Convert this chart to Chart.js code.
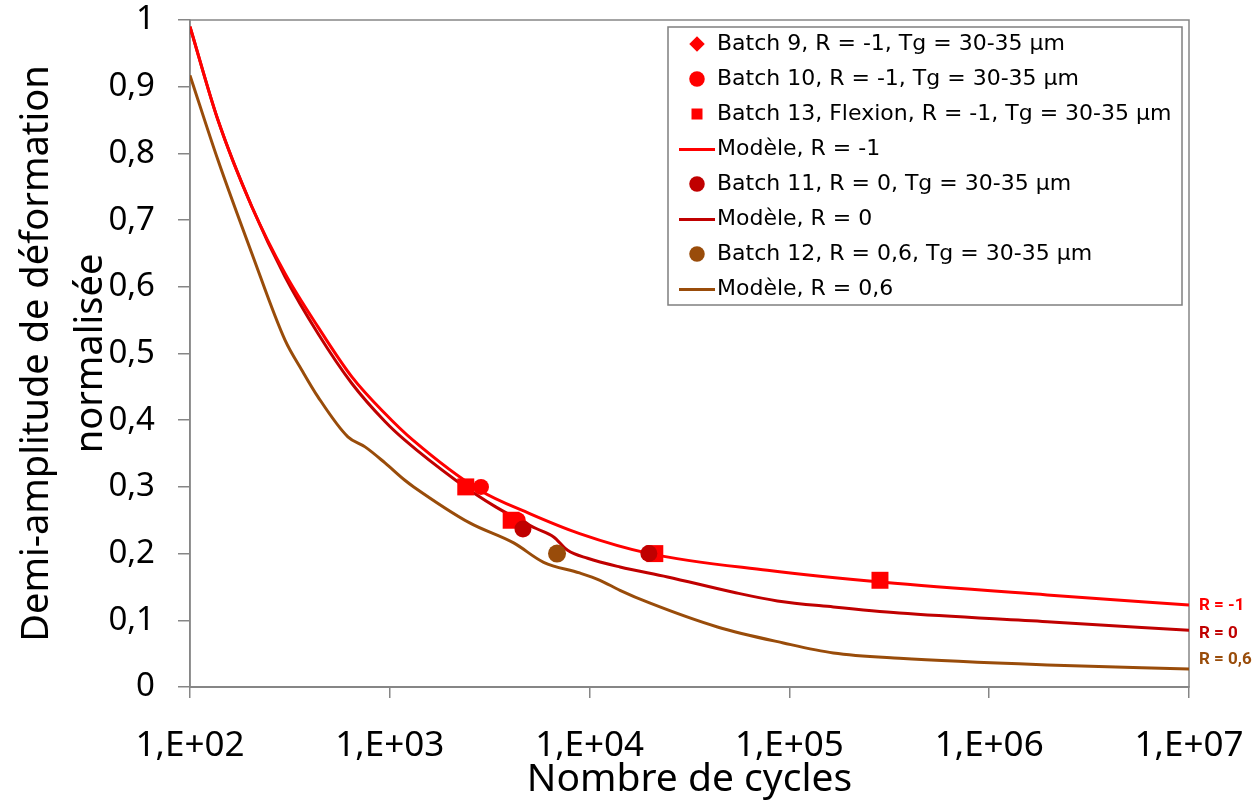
<!DOCTYPE html>
<html lang="fr">
<head>
<meta charset="UTF-8">
<title>Demi-amplitude de déformation normalisée</title>
<script src="https://cdn.jsdelivr.net/npm/chart.js"></script>
<style>
  html, body { margin: 0; padding: 0; background: #fff; }
</style>
</head>
<body>
<canvas id="chart" width="1258" height="809"></canvas>
<script>
// axes
var xTickValues = [1e2, 1e3, 1e4, 1e5, 1e6, 1e7];
var xTickLabels = ['1,E+02', '1,E+03', '1,E+04', '1,E+05', '1,E+06', '1,E+07'];
var yTickLabels = ['0', '0,1', '0,2', '0,3', '0,4', '0,5', '0,6', '0,7', '0,8', '0,9', '1'];

// essais
var batch9Cycles = [2400];
var batch9Values = [0.30];
var batch10Cycles = [2860, 4370];
var batch10Values = [0.30, 0.25];
var batch13Cycles = [2400, 4050, 21200, 284000];
var batch13Values = [0.30, 0.25, 0.20, 0.16];
var batch11Cycles = [4640, 19800];
var batch11Values = [0.237, 0.20];
var batch12Cycles = [6870];
var batch12Values = [0.20];

// modèles
var modelM1Cycles = [100, 138, 204, 299, 437, 646, 946, 1306, 2818, 5012, 8913, 19950, 77620, 295000, 1950000, 1e7];
var modelM1Values = [0.99, 0.85, 0.72, 0.62, 0.54, 0.465, 0.41, 0.37, 0.295, 0.26, 0.23, 0.20, 0.175, 0.157, 0.138, 0.123];
var model0Cycles = [100, 138, 204, 299, 437, 646, 946, 1190, 2138, 3388, 5370, 6607, 7762, 9772, 14190, 24550, 52480, 87100, 166000, 354800, 1950000, 1e7];
var model0Values = [0.99, 0.85, 0.72, 0.615, 0.53, 0.455, 0.398, 0.37, 0.31, 0.27, 0.238, 0.225, 0.205, 0.193, 0.18, 0.165, 0.142, 0.129, 0.12, 0.111, 0.098, 0.085];
var model06Cycles = [100, 138, 204, 299, 363, 437, 617, 752, 946, 1190, 1318, 2512, 4169, 5888, 8913, 11270, 14190, 19950, 43650, 93330, 166000, 354800, 1950000, 1e7];
var model06Values = [0.917, 0.79, 0.65, 0.52, 0.475, 0.435, 0.375, 0.36, 0.336, 0.31, 0.30, 0.246, 0.216, 0.187, 0.171, 0.16, 0.145, 0.126, 0.09, 0.066, 0.051, 0.043, 0.033, 0.027];

var RED = '#ff0000';
var DARKRED = '#c00000';
var BROWN = '#994c0a';
var FONT = 'Noto Sans';

function pts(xs, ys) {
    return xs.map(function (x, i) { return { x: x, y: ys[i] }; });
}

function scatterSet(label, xs, ys, color, style, radius, order) {
    return {
        type: 'scatter', label: label, data: pts(xs, ys),
        backgroundColor: color, borderColor: color, borderWidth: 0,
        pointStyle: style, pointRadius: radius, pointHoverRadius: radius, order: order
    };
}

function lineSet(label, xs, ys, color, endLabel, dy) {
    return {
        type: 'line', label: label, data: pts(xs, ys),
        borderColor: color, backgroundColor: color, borderWidth: 3,
        pointRadius: 0, pointStyle: 'line', cubicInterpolationMode: 'monotone',
        fill: false, order: 5, endLabel: endLabel, endDy: dy
    };
}

// petit trait pour la légende des modèles
function lineImage(color) {
    var c = document.createElement('canvas');
    c.width = 36;
    c.height = 3;
    var g = c.getContext('2d');
    g.fillStyle = color;
    g.fillRect(0, 0, 36, 3);
    return c;
}

// cadre de la zone de tracé, cadre de la légende, étiquettes en bout de courbe
var extras = {
    id: 'extras',
    afterLayout: function (chart) {
        var a = chart.chartArea;
        chart.legend.left = a.left + 485;
        chart.legend.top = a.top;
    },
    beforeDatasetsDraw: function (chart) {
        var a = chart.chartArea, ctx = chart.ctx;
        ctx.save();
        ctx.strokeStyle = '#868686';
        ctx.lineWidth = 1.5;
        ctx.strokeRect(a.left, a.top, a.right - a.left, a.bottom - a.top);
        ctx.restore();
    },
    afterDraw: function (chart) {
        var a = chart.chartArea, ctx = chart.ctx;
        ctx.save();
        ctx.strokeStyle = '#7f7f7f';
        ctx.lineWidth = 1.5;
        ctx.strokeRect(a.left + 478, a.top + 7, a.right - 7 - (a.left + 478), 278);
        ctx.font = 'bold 17px Roboto';
        ctx.textBaseline = 'middle';
        chart.data.datasets.forEach(function (ds, i) {
            if (!ds.endLabel) return;
            var meta = chart.getDatasetMeta(i);
            var p = meta.data[meta.data.length - 1];
            ctx.fillStyle = ds.borderColor;
            ctx.fillText(ds.endLabel, a.right + 10, p.y + ds.endDy);
        });
        ctx.restore();
    }
};

var ctx = document.getElementById('chart').getContext('2d');
var chart = new Chart(ctx, {
    data: {
        datasets: [
            scatterSet('Batch 9, R = -1, Tg = 30-35 µm', batch9Cycles, batch9Values, RED, 'rectRot', 7, 3),
            scatterSet('Batch 10, R = -1, Tg = 30-35 µm', batch10Cycles, batch10Values, RED, 'circle', 8, 1),
            scatterSet('Batch 13, Flexion, R = -1, Tg = 30-35 µm', batch13Cycles, batch13Values, RED, 'rect', 12, 2),
            lineSet('Modèle, R = -1', modelM1Cycles, modelM1Values, RED, 'R = -1', 1),
            scatterSet('Batch 11, R = 0, Tg = 30-35 µm', batch11Cycles, batch11Values, DARKRED, 'circle', 8.5, 0),
            lineSet('Modèle, R = 0', model0Cycles, model0Values, DARKRED, 'R = 0', 3),
            scatterSet('Batch 12, R = 0,6, Tg = 30-35 µm', batch12Cycles, batch12Values, BROWN, 'circle', 9, 0),
            lineSet('Modèle, R = 0,6', model06Cycles, model06Values, BROWN, 'R = 0,6', -9)
        ]
    },
    options: {
        responsive: false,
        animation: false,
        devicePixelRatio: 1,
        layout: { padding: { top: 20, right: 69, bottom: 0, left: 0 } },
        plugins: {
            tooltip: { enabled: false },
            legend: {
                position: 'chartArea',
                align: 'start',
                labels: {
                    usePointStyle: true,
                    boxWidth: 18,
                    boxHeight: 11,
                    padding: 13,
                    color: '#000',
                    font: { family: 'DejaVu Sans', size: 22 },
                    sort: function (a, b) { return a.datasetIndex - b.datasetIndex; },
                    generateLabels: function (chart) {
                        var items = Chart.defaults.plugins.legend.labels.generateLabels(chart);
                        items.forEach(function (it) {
                            var ds = chart.data.datasets[it.datasetIndex];
                            if (ds.type === 'line') it.pointStyle = lineImage(ds.borderColor);
                        });
                        return items;
                    }
                }
            }
        },
        scales: {
            x: {
                type: 'logarithmic',
                min: 1e2,
                max: 1e7,
                afterBuildTicks: function (scale) {
                    scale.ticks = xTickValues.map(function (v) { return { value: v, major: true }; });
                },
                afterFit: function (scale) {
                    scale.height = 122;
                    scale.paddingLeft = 0;
                    scale.paddingRight = 0;
                },
                ticks: {
                    autoSkip: false,
                    maxRotation: 0,
                    padding: 27,
                    color: '#000',
                    font: { family: FONT, size: 35 },
                    callback: function (v, i) { return xTickLabels[i]; }
                },
                grid: { drawOnChartArea: false, drawTicks: true, tickLength: 11, color: '#868686', lineWidth: 1.5 },
                border: { color: '#868686', width: 2 },
                title: {
                    display: true,
                    text: 'Nombre de cycles',
                    color: '#000',
                    font: { family: FONT, size: 39, lineHeight: 1.2 },
                    padding: { top: 14, bottom: 6 }
                }
            },
            y: {
                type: 'linear',
                min: 0,
                max: 1,
                afterFit: function (scale) {
                    scale.width = 190;
                    scale.paddingTop = 0;
                    scale.paddingBottom = 0;
                },
                ticks: {
                    stepSize: 0.1,
                    padding: 23,
                    color: '#000',
                    font: { family: FONT, size: 33 },
                    callback: function (v, i) { return yTickLabels[i]; }
                },
                grid: { drawOnChartArea: false, drawTicks: true, tickLength: 12, color: '#868686', lineWidth: 1.5 },
                border: { color: '#868686', width: 1.5 },
                title: {
                    display: true,
                    text: ['Demi-amplitude de déformation', 'normalisée'],
                    color: '#000',
                    font: { family: FONT, size: 38, lineHeight: 1.4 },
                    padding: { top: 11, bottom: 11 }
                }
            }
        }
    },
    plugins: [extras]
});
</script>
</body>
</html>
